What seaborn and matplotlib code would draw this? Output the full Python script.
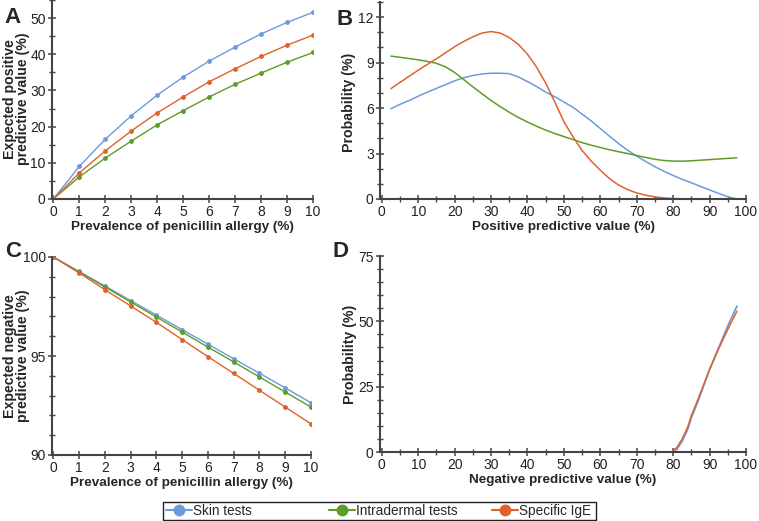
import numpy as np
import pandas as pd
import seaborn as sns
import matplotlib.pyplot as plt
from matplotlib.lines import Line2D
from matplotlib.patches import Rectangle
from matplotlib.ticker import MultipleLocator

# ---- data ----
prevalence = [0, 1, 2, 3, 4, 5, 6, 7, 8, 9, 10]
ppv_skin = [0, 9.0, 16.5, 23.0, 28.7, 33.7, 38.1, 42.0, 45.6, 48.8, 51.6]
ppv_intra = [0, 6.1, 11.3, 16.0, 20.5, 24.4, 28.2, 31.7, 34.8, 37.8, 40.5]
ppv_ige = [0, 7.2, 13.3, 18.8, 23.8, 28.2, 32.4, 36.0, 39.4, 42.5, 45.3]

npv_skin = [100, 99.27, 98.54, 97.80, 97.07, 96.33, 95.60, 94.86, 94.13, 93.39, 92.64]
npv_intra = [100, 99.24, 98.49, 97.73, 96.97, 96.21, 95.45, 94.70, 93.94, 93.18, 92.42]
npv_ige = [100, 99.20, 98.35, 97.53, 96.70, 95.83, 94.97, 94.12, 93.27, 92.42, 91.57]

ppv_grid = [2.5, 5, 7.5, 10, 12.5, 15, 17.5, 20, 22.5, 25, 27.5, 30, 32.5, 35, 37.5,
            40, 42.5, 45, 47.5, 50, 52.5, 55, 57.5, 60, 62.5, 65, 67.5, 70, 72.5,
            75, 77.5, 80, 82.5, 85, 87.5, 90, 92.5, 95, 97.5]
prob_ppv_skin = [5.96, 6.25, 6.5, 6.78, 7.05, 7.3, 7.55, 7.8, 8.0, 8.15, 8.25, 8.3, 8.3,
                 8.27, 8.05, 7.75, 7.42, 7.06, 6.75, 6.4, 6.05, 5.6, 5.15, 4.65, 4.15,
                 3.66, 3.22, 2.83, 2.47, 2.13, 1.83, 1.55, 1.3, 1.07, 0.83, 0.6, 0.37,
                 0.15, 0.0]
prob_ppv_intra = [9.43, 9.35, 9.27, 9.18, 9.08, 8.95, 8.72, 8.35, 7.88, 7.4, 6.95, 6.5,
                  6.1, 5.72, 5.38, 5.08, 4.8, 4.55, 4.32, 4.12, 3.92, 3.72, 3.55, 3.4,
                  3.25, 3.12, 3.0, 2.87, 2.74, 2.62, 2.54, 2.5, 2.5, 2.52, 2.56, 2.6,
                  2.64, 2.68, 2.72]
prob_ppv_ige = [7.28, 7.7, 8.1, 8.5, 8.88, 9.25, 9.65, 10.05, 10.4, 10.7, 10.95, 11.05,
                10.95, 10.65, 10.2, 9.55, 8.7, 7.65, 6.4, 5.1, 4.1, 3.2, 2.5, 1.9,
                1.35, 0.92, 0.62, 0.4, 0.25, 0.14, 0.07, 0.03, 0.01, 0.0, 0.0, None,
                None, None, None]

npv_grid = [79.5, 81, 82.5, 84, 85, 87, 90, 92.5, 95, 97.5]
prob_npv_skin = [0, 1.0, 4.2, 8.7, 13.1, 20.1, 31.6, 39.9, 48.2, 55.8]
prob_npv_ige = [0, 1.7, 5.1, 9.6, 14.0, 20.8, 31.6, 39.5, 46.9, 53.9]

series_names = ["Skin tests", "Intradermal tests", "Specific IgE"]
colors = {"Skin tests": "#6C9BDB", "Intradermal tests": "#5E9C27", "Specific IgE": "#E0622A"}

sns.set_style("ticks")
plt.rcParams["font.family"] = ["Liberation Sans", "DejaVu Sans"]

fig = plt.figure(figsize=(7.59, 5.21), dpi=100)
W, H = 759, 521


def rect(x0, y0, x1, y1):
    return [x0 / W, 1 - y1 / H, (x1 - x0) / W, (y1 - y0) / H]


axA = fig.add_axes(rect(52, 0, 313, 199))
axB = fig.add_axes(rect(380, 2, 746, 199))
axC = fig.add_axes(rect(52, 257, 311, 455))
axD = fig.add_axes(rect(380, 256, 746, 452))

# A
for name, vals in zip(series_names, [ppv_skin, ppv_intra, ppv_ige]):
    sns.lineplot(x=prevalence, y=vals, ax=axA, color=colors[name], lw=1,
                 marker="o", markersize=3.5, markeredgewidth=0)
axA.set_xlim(-0.05, 10)
axA.set_ylim(0, 55)
axA.xaxis.set_major_locator(MultipleLocator(1))
axA.yaxis.set_major_locator(MultipleLocator(10))
axA.yaxis.set_minor_locator(MultipleLocator(5))
axA.set_xlabel("Prevalence of penicillin allergy (%)")
axA.set_ylabel("Expected positive\npredictive value (%)", linespacing=0.95)
axA.yaxis.set_label_coords((30 - 52) / 261, (199 - 99) / 199)

# B
for name, vals in zip(series_names, [prob_ppv_skin, prob_ppv_intra, prob_ppv_ige]):
    d = pd.DataFrame({"x": ppv_grid, "y": vals}).dropna()
    sns.lineplot(data=d, x="x", y="y", ax=axB, color=colors[name], lw=1.1)
axB.set_xlim(-0.5, 100)
axB.set_ylim(0, 13)
axB.xaxis.set_major_locator(MultipleLocator(10))
axB.xaxis.set_minor_locator(MultipleLocator(5))
axB.yaxis.set_major_locator(MultipleLocator(3))
axB.yaxis.set_minor_locator(MultipleLocator(1))
axB.set_xlabel("Positive predictive value (%)")
axB.set_ylabel("Probability (%)")
axB.yaxis.set_label_coords((356 - 380) / 366, (199 - 102) / 197)

# C
for name, vals in zip(series_names, [npv_skin, npv_intra, npv_ige]):
    sns.lineplot(x=prevalence, y=vals, ax=axC, color=colors[name], lw=1,
                 marker="o", markersize=3.5, markeredgewidth=0)
axC.set_xlim(-0.05, 10)
axC.set_ylim(90, 100)
axC.xaxis.set_major_locator(MultipleLocator(1))
axC.yaxis.set_major_locator(MultipleLocator(5))
axC.yaxis.set_minor_locator(MultipleLocator(1))
axC.set_xlabel("Prevalence of penicillin allergy (%)")
axC.set_ylabel("Expected negative\npredictive value (%)", linespacing=0.95)
axC.yaxis.set_label_coords((30 - 52) / 259, 0.5)

# D
sns.lineplot(x=npv_grid, y=prob_npv_skin, ax=axD, color=colors["Skin tests"], lw=1.3)
sns.lineplot(x=npv_grid, y=prob_npv_ige, ax=axD, color=colors["Specific IgE"], lw=1.1)
axD.set_xlim(-0.5, 100)
axD.set_ylim(0, 75)
axD.xaxis.set_major_locator(MultipleLocator(10))
axD.xaxis.set_minor_locator(MultipleLocator(5))
axD.yaxis.set_major_locator(MultipleLocator(25))
axD.yaxis.set_minor_locator(MultipleLocator(5))
axD.set_xlabel("Negative predictive value (%)")
axD.set_ylabel("Probability (%)")
axD.yaxis.set_label_coords((357 - 380) / 366, 0.5)

for ax in [axA, axB, axC, axD]:
    sns.despine(ax=ax)
    for s in ["left", "bottom"]:
        ax.spines[s].set_color("#444444")
        ax.spines[s].set_linewidth(1.5)
    ax.tick_params(which="major", direction="inout", length=6, width=1.1,
                   color="#444444", labelsize=10, labelcolor="#222222", pad=1.5)
    ax.tick_params(which="minor", direction="inout", length=5, width=1.0,
                   color="#444444")
    ax.xaxis.label.set_fontsize(9.7)
    ax.yaxis.label.set_fontsize(10.2)
    ax.xaxis.label.set_fontweight("bold")
    ax.yaxis.label.set_fontweight("bold")
    ax.xaxis.labelpad = 1

for label, (x, y) in zip("ABCD", [(4, 23), (337, 25), (5, 257), (333, 257)]):
    fig.text(x / W, 1 - y / H, label, fontsize=16, fontweight="bold", ha="left",
             va="baseline")

# legend: framed box with three evenly spaced entries
fig.patches.append(Rectangle((163 / W, 1 - 520 / H), (596 - 163) / W, 18 / H,
                             transform=fig.transFigure, fill=False,
                             edgecolor="#222222", lw=1.0))
for name, x0 in zip(series_names, [166, 329, 492]):
    h = Line2D([0], [0], color=colors[name], lw=1.5, marker="o", markersize=8.5,
               markeredgewidth=0)
    fig.legend([h], [name], loc="center left", bbox_to_anchor=(x0 / W, 1 - 511 / H),
               frameon=False, fontsize=9.8, handlelength=1.9, handletextpad=0.1,
               borderpad=0, borderaxespad=0)

fig.savefig("out.png", dpi=100)
